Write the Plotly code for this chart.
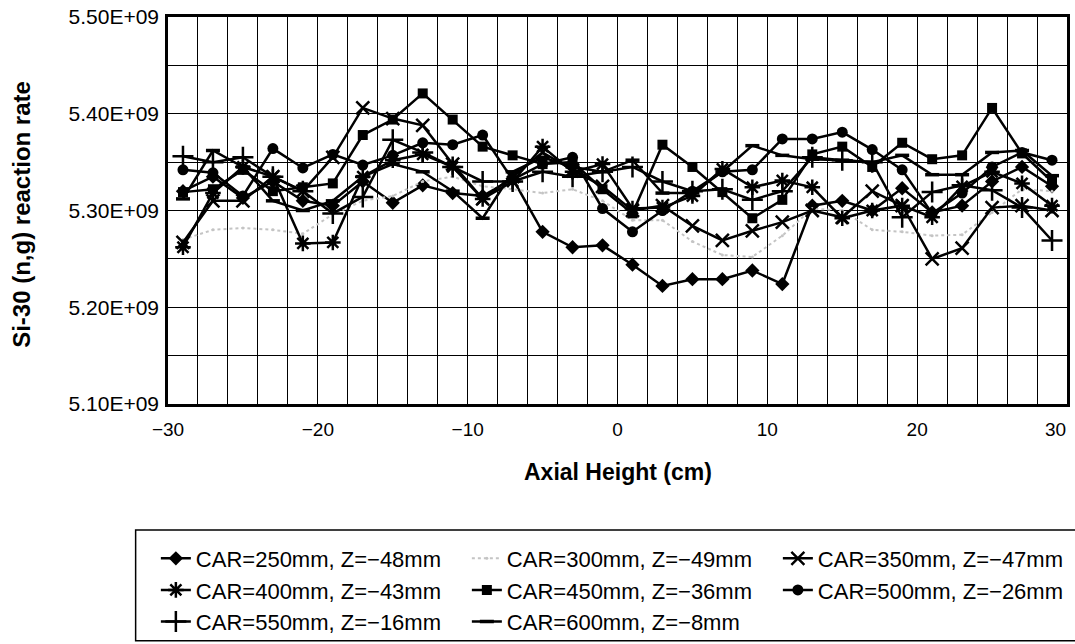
import plotly.graph_objects as go

# ---- data (values in units of 1E+09) ----
axial_height = [-29, -27, -25, -23, -21, -19, -17, -15, -13, -11, -9, -7, -5, -3, -1,
                1, 3, 5, 7, 9, 11, 13, 15, 17, 19, 21, 23, 25, 27, 29]

car250 = [5.320, 5.335, 5.313, 5.330, 5.310, 5.305, 5.330, 5.308, 5.326, 5.318, 5.315, 5.333, 5.278, 5.262, 5.264,
          5.244, 5.222, 5.229, 5.229, 5.238, 5.224, 5.305, 5.310, 5.300, 5.323, 5.298, 5.305, 5.330, 5.345, 5.325]
car300 = [5.270, 5.280, 5.282, 5.280, 5.276, 5.296, 5.310, 5.315, 5.330, 5.335, 5.325, 5.322, 5.318, 5.322, 5.310,
          5.290, 5.290, 5.268, 5.254, 5.252, 5.274, 5.302, 5.300, 5.280, 5.278, 5.274, 5.275, 5.298, 5.322, 5.320]
car350 = [5.267, 5.310, 5.310, 5.335, 5.320, 5.355, 5.406, 5.395, 5.388, 5.348, 5.312, 5.335, 5.360, 5.342, 5.325,
          5.300, 5.305, 5.284, 5.269, 5.279, 5.288, 5.300, 5.293, 5.320, 5.305, 5.250, 5.261, 5.303, 5.305, 5.300]
car400 = [5.262, 5.318, 5.345, 5.335, 5.266, 5.267, 5.335, 5.352, 5.358, 5.345, 5.312, 5.330, 5.366, 5.340, 5.348,
          5.302, 5.303, 5.315, 5.343, 5.324, 5.331, 5.324, 5.292, 5.300, 5.305, 5.293, 5.325, 5.340, 5.328, 5.305]
car450 = [5.319, 5.322, 5.342, 5.320, 5.324, 5.328, 5.378, 5.394, 5.421, 5.394, 5.366, 5.357, 5.348, 5.350, 5.322,
          5.297, 5.368, 5.345, 5.319, 5.292, 5.311, 5.358, 5.366, 5.345, 5.370, 5.353, 5.357, 5.406, 5.359, 5.330]
car500 = [5.342, 5.339, 5.315, 5.364, 5.344, 5.358, 5.347, 5.357, 5.370, 5.368, 5.378, 5.332, 5.348, 5.355, 5.302,
          5.278, 5.300, 5.320, 5.340, 5.342, 5.374, 5.374, 5.381, 5.363, 5.342, 5.297, 5.318, 5.345, 5.360, 5.352]
car550 = [5.356, 5.350, 5.355, 5.335, 5.320, 5.297, 5.314, 5.373, 5.360, 5.345, 5.330, 5.330, 5.340, 5.335, 5.340,
          5.345, 5.330, 5.320, 5.322, 5.311, 5.320, 5.355, 5.352, 5.350, 5.293, 5.319, 5.326, 5.321, 5.303, 5.269]
car600 = [5.312, 5.362, 5.345, 5.310, 5.300, 5.310, 5.335, 5.348, 5.340, 5.320, 5.292, 5.340, 5.355, 5.345, 5.340,
          5.352, 5.318, 5.318, 5.340, 5.367, 5.357, 5.353, 5.352, 5.350, 5.357, 5.337, 5.337, 5.360, 5.362, 5.336]

series_names = ["CAR=250mm, Z=\u221248mm", "CAR=300mm, Z=\u221249mm", "CAR=350mm, Z=\u221247mm",
                "CAR=400mm, Z=\u221243mm", "CAR=450mm, Z=\u221236mm", "CAR=500mm, Z=\u221226mm",
                "CAR=550mm, Z=\u221216mm", "CAR=600mm, Z=\u22128mm"]

y_tick_values = [5.10, 5.20, 5.30, 5.40, 5.50]
y_tick_labels = ["5.10E+09", "5.20E+09", "5.30E+09", "5.40E+09", "5.50E+09"]
x_tick_values = [-30, -20, -10, 0, 10, 20]
x_last_tick = 30

UNIT = 1e9
FONT = "Liberation Sans, Arial, sans-serif"

styles = [
    dict(color="black", dash="solid", width=2.5, symbol="diamond", size=11, mline=0),
    dict(color="#c4c4c4", dash="dot", width=2, symbol="circle", size=3, mline=0),
    dict(color="black", dash="solid", width=2.5, symbol="x-thin-open", size=13, mline=2.5),
    dict(color="black", dash="solid", width=2.5, symbol="asterisk-open", size=13, mline=2.5),
    dict(color="black", dash="solid", width=2.5, symbol="square", size=10, mline=0),
    dict(color="black", dash="solid", width=2.5, symbol="circle", size=11, mline=0),
    dict(color="black", dash="solid", width=2.5, symbol="cross-thin-open", size=15, mline=2.5),
    dict(color="black", dash="solid", width=2.5, symbol="line-ew-open", size=10, mline=3.5),
]
all_series = [car250, car300, car350, car400, car450, car500, car550, car600]

fig = go.Figure()
for name, vals, st in zip(series_names, all_series, styles):
    fig.add_trace(go.Scatter(
        x=axial_height, y=[v * UNIT for v in vals], name=name, mode="lines+markers",
        line=dict(color=st["color"], width=st["width"], dash=st["dash"]),
        marker=dict(symbol=st["symbol"], size=st["size"], color=st["color"],
                    line=dict(color=st["color"], width=st["mline"])),
    ))

fig.update_layout(
    width=1075, height=644,
    margin=dict(l=168, r=8, t=17, b=240, autoexpand=False),
    paper_bgcolor="white", plot_bgcolor="white",
    font=dict(family=FONT, color="black"),
    showlegend=True,
    legend=dict(orientation="h", x=-0.0135, xanchor="left", y=-0.345, yanchor="top",
                font=dict(size=22, family=FONT), entrywidth=266, entrywidthmode="pixels",
                bgcolor="rgba(0,0,0,0)", tracegroupgap=0, traceorder="normal"),
    xaxis=dict(range=[-30, 30], tickvals=x_tick_values, showgrid=True, gridcolor="black", gridwidth=1,
               minor=dict(dtick=2, tick0=0, showgrid=True, gridcolor="black", gridwidth=1),
               showline=True, mirror=True, linecolor="black", linewidth=2.5,
               ticks="", tickfont=dict(size=19, family=FONT), ticklabelstandoff=6, zeroline=False),
    yaxis=dict(range=[5.10 * UNIT, 5.50 * UNIT], tickvals=[v * UNIT for v in y_tick_values],
               ticktext=y_tick_labels, showgrid=True, gridcolor="black", gridwidth=1,
               minor=dict(dtick=0.05 * UNIT, tick0=5.10 * UNIT, showgrid=True, gridcolor="black", gridwidth=1),
               showline=True, mirror=True, linecolor="black", linewidth=2.5,
               ticks="", tickfont=dict(size=21, family=FONT), ticklabelstandoff=2, zeroline=False),
    annotations=[
        dict(text=str(x_last_tick), xref="x", yref="paper", x=x_last_tick, y=-0.0646,
             xanchor="right", yanchor="middle", showarrow=False, xshift=1,
             font=dict(size=19, family=FONT)),
        dict(text="<b>Axial Height (cm)</b>", xref="paper", yref="paper", x=0.5, y=-0.176,
             xanchor="center", yanchor="middle", showarrow=False, font=dict(size=23, family=FONT)),
        dict(text="<b>Si-30 (n,g) reaction rate</b>", xref="paper", yref="paper", x=-0.163, y=0.49,
             xanchor="center", yanchor="middle", textangle=-90, showarrow=False,
             font=dict(size=24, family=FONT)),
    ],
    shapes=[
        dict(type="rect", xref="paper", yref="paper", x0=-0.036, x1=1.02, y0=-0.612, y1=-0.3256,
             line=dict(color="black", width=1.5), fillcolor="rgba(0,0,0,0)", layer="below"),
    ],
)

fig.write_html("out.html")
